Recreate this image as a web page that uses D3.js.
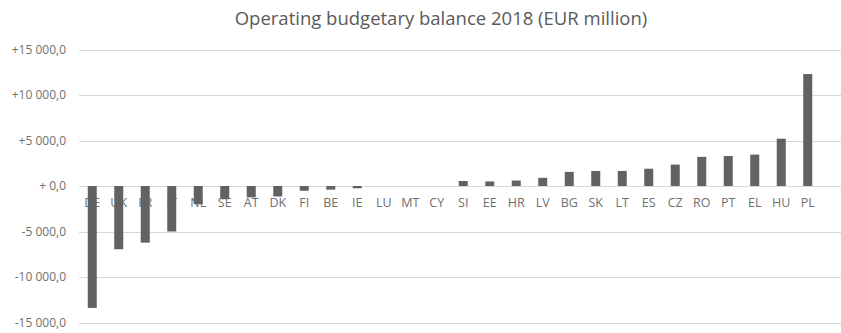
<!DOCTYPE html>
<html>
<head>
<meta charset="utf-8">
<script src="https://cdn.jsdelivr.net/npm/d3@7/dist/d3.min.js"></script>
<style>
  html, body { margin: 0; padding: 0; background: #fff; }
  svg { display: block; }
</style>
</head>
<body>
<svg id="chart" width="841" height="333"></svg>
<script>
// Operating budgetary balance per member state, 2018 (EUR million)
const countries = ["DE","UK","FR","IT","NL","SE","AT","DK","FI","BE","IE","LU","MT","CY",
                   "SI","EE","HR","LV","BG","SK","LT","ES","CZ","RO","PT","EL","HU","PL"];
const balances  = [-13400,-6950,-6230,-5000,-2000,-1450,-1250,-1150,-520,-400,-250,0,0,0,
                   550,500,600,900,1550,1650,1650,1900,2350,3200,3300,3450,5200,12300];
const tickValues = [15000,10000,5000,0,-5000,-10000,-15000];
const tickLabels = ["+15 000,0","+10 000,0","+5 000,0","+ 0,0","-5 000,0","-10 000,0","-15 000,0"];
const titleText = "Operating budgetary balance 2018 (EUR million)";

const svg = d3.select("#chart");
const plot = { left: 79, right: 821, top: 49.5, bottom: 322.5, gridRight: 841 };
const font = "'Open Sans', 'Noto Sans', sans-serif";

const y = d3.scaleLinear().domain([-15000, 15000]).range([plot.bottom, plot.top]);
const x = d3.scaleBand().domain(countries).range([plot.left, plot.right]).paddingInner(0.66).paddingOuter(0.33);

// title
svg.append("text")
  .attr("x", 441).attr("y", 25)
  .attr("text-anchor", "middle")
  .attr("font-family", font).attr("font-size", 18.5)
  .attr("fill", "#5a5a5a")
  .text(titleText);

// horizontal gridlines
svg.append("g").selectAll("line").data(tickValues).join("line")
  .attr("x1", plot.left).attr("x2", plot.gridRight)
  .attr("y1", d => Math.round(y(d)) + 0.5).attr("y2", d => Math.round(y(d)) + 0.5)
  .attr("stroke", "#d9d9d9").attr("stroke-width", 1);

// value axis labels
const yAxis = d3.axisLeft(y).tickValues(tickValues).tickSize(0).tickPadding(0)
  .tickFormat((d, i) => tickLabels[i]);
const gy = svg.append("g").attr("transform", `translate(66,0)`).call(yAxis);
gy.select(".domain").remove();
gy.selectAll("text")
  .attr("font-family", font).attr("font-size", 12).attr("fill", "#707070");

// category labels sit just below the zero line
const xAxis = d3.axisBottom(x).tickSize(0).tickPadding(0);
const gx = svg.append("g").attr("transform", `translate(0,${y(0) + 12})`).call(xAxis);
gx.select(".domain").remove();
gx.selectAll("text")
  .attr("font-family", font).attr("font-size", 12.5).attr("fill", "#707070");

// bars
svg.append("g").selectAll("rect").data(countries).join("rect")
  .attr("x", (d) => x(d))
  .attr("width", x.bandwidth())
  .attr("y", (d, i) => y(Math.max(0, balances[i])))
  .attr("height", (d, i) => Math.abs(y(balances[i]) - y(0)))
  .attr("fill", "#626262");
</script>
</body>
</html>
